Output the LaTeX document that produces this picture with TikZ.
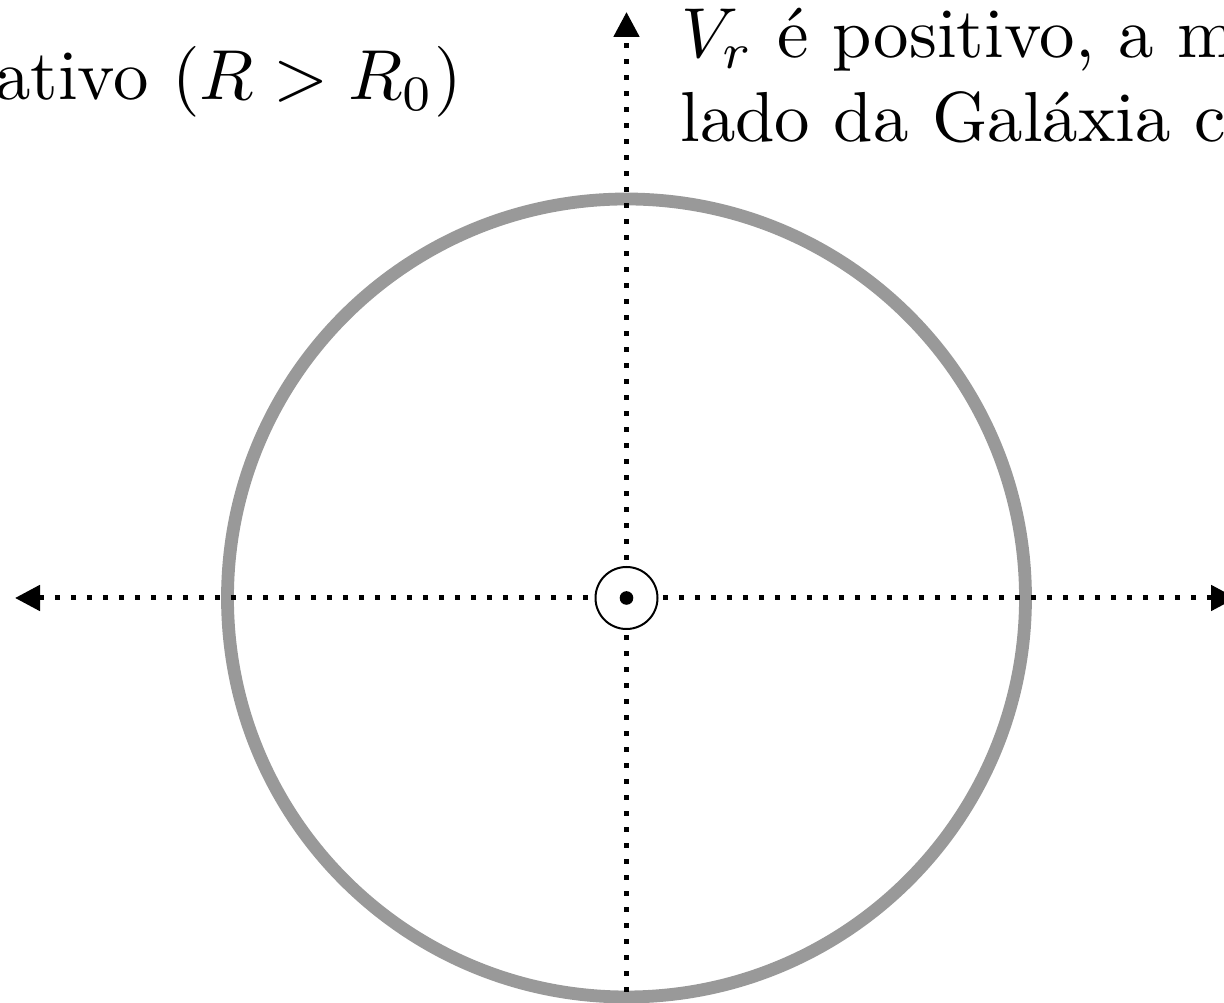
\documentclass[tikz,border=0pt]{standalone}
\usepackage{fontspec}
\usetikzlibrary{arrows.meta}
\definecolor{ringgray}{gray}{0.6}
\tikzset{
  axis/.style={line width=1.25pt, dash pattern=on 1.25pt off 2.75pt,
    -{Triangle[length=6.25pt,width=6.25pt]}},
  ring/.style={draw=ringgray, line width=3.2pt},
  label/.style={inner sep=0pt, font=\normalsize, scale=1.77, transform shape},
  sun/.style={circle, draw, fill=white, line width=0.5pt, minimum size=15.5pt, inner sep=0pt}
}
\begin{document}
\begin{tikzpicture}[x=0.25pt,y=-0.25pt]
\useasboundingbox (0,0) rectangle (1224,1003);
\coordinate (C) at (626.5,598);
\coordinate (L) at (15,598);
\coordinate (R) at (1236,598);
\coordinate (T) at (626.5,12);
\coordinate (B) at (626.5,1200);
\draw[ring] (C) circle[radius=399];
\draw[axis,{Triangle[length=6.25pt,width=6.25pt]}-{Triangle[length=6.25pt,width=6.25pt]}] (L) -- (R);
\draw[axis] (B) -- (T);
\node[sun] (sun) at (C) {};
\fill (sun.center) circle[radius=1.7pt];
\node[label, anchor=base east] (left) at (463,100) {ativo ($R > R_0$)};
\node[label, anchor=base west] (r1) at (680,58) {$V_r$ é positivo, a m};
\node[label, anchor=base west] (r2) at (679,142) {lado da Galáxia c};
\end{tikzpicture}
\end{document}
